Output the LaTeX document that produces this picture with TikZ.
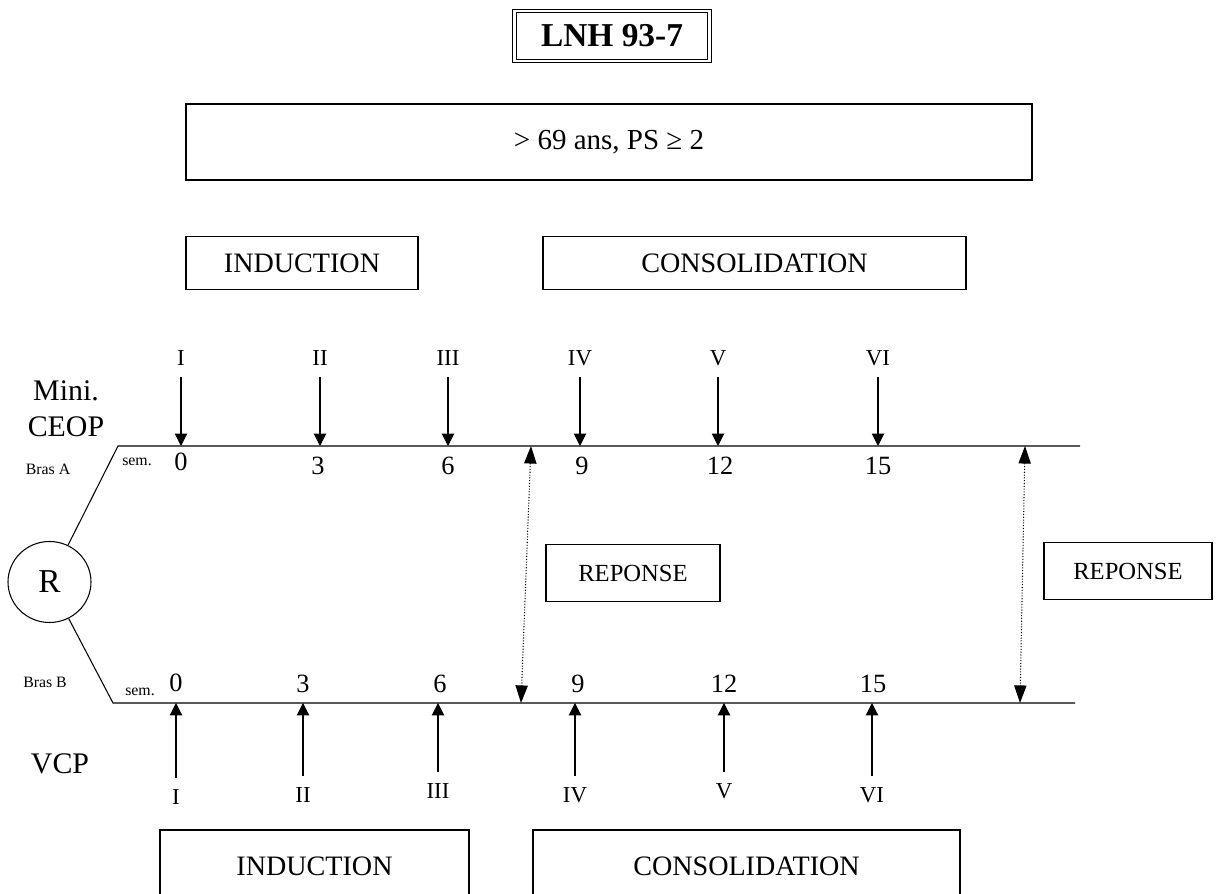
\documentclass[tikz,border=0pt]{standalone}
\usepackage{fontspec}
\setmainfont{Liberation Serif}
\usetikzlibrary{shapes.geometric, arrows.meta, positioning}

\begin{document}
\begin{tikzpicture}[line width=0.6pt,
  phase/.style={draw, minimum height=1.06cm, font=\fontsize{16}{19}\selectfont},
  repbox/.style={draw, minimum height=1.14cm, font=\fontsize{14}{17}\selectfont},
  dose/.style={-{Triangle[length=7pt,width=7pt]}, shorten <=3pt},
  resp/.style={densely dotted, {Triangle[length=10pt,width=7pt]}-{Triangle[length=10pt,width=7pt]}},
  week/.style={font=\fontsize{15}{18}\selectfont},
  cycle/.style={font=\fontsize{13}{16}\selectfont},
  tiny/.style={font=\fontsize{9}{11}\selectfont}]
\useasboundingbox (0,0) rectangle (24.36,17.88);

% en-tete
\node[draw, double, double distance=1.5pt, minimum width=3.9cm, minimum height=1cm,
  font=\fontsize{19}{23}\selectfont\bfseries] (title) at (12.24,17.16) {LNH 93-7};
\node[draw, minimum width=16.92cm, minimum height=1.52cm, font=\fontsize{16.5}{20}\selectfont]
  (crit) at (12.18,15.04) {> 69 ans, PS ≥ 2};
\node[phase, minimum width=4.64cm] (indA) at (6.04,12.62) {INDUCTION};
\node[phase, minimum width=8.46cm] (consA) at (15.09,12.62) {CONSOLIDATION};

% randomisation
\node[draw, ellipse, minimum width=1.66cm, minimum height=1.62cm,
  font=\fontsize{19}{22}\selectfont] (R) at (0.99,6.24) {R};
\coordinate (A0) at (2.36,8.96);
\coordinate (Aend) at (21.6,8.96);
\coordinate (B0) at (2.26,3.82);
\coordinate (Bend) at (21.5,3.82);
\draw (R) -- (A0) -- (Aend);
\draw (R) -- (B0) -- (Bend);
\node[align=center, font=\fontsize{17}{20.5}\selectfont] (armA) at (1.32,9.7) {Mini.\\CEOP};
\node[font=\fontsize{17}{20}\selectfont] (armB) at (1.2,2.6) {VCP};
\node[tiny] (brasA) at (0.96,8.5) {Bras A};
\node[tiny] (brasB) at (0.9,4.24) {Bras B};
\node[tiny] (semA) at (2.74,8.64) {sem.};
\node[tiny] (semB) at (2.8,4.04) {sem.};

% bras A
\node[cycle] (cA1) at (3.62,10.72) {I};
\node[cycle] (cA2) at (6.4,10.72) {II};
\node[cycle] (cA3) at (8.96,10.72) {III};
\node[cycle] (cA4) at (11.6,10.72) {IV};
\node[cycle] (cA5) at (14.36,10.72) {V};
\node[cycle] (cA6) at (17.56,10.72) {VI};
\draw[dose] (cA1) -- (cA1 |- A0);
\draw[dose] (cA2) -- (cA2 |- A0);
\draw[dose] (cA3) -- (cA3 |- A0);
\draw[dose] (cA4) -- (cA4 |- A0);
\draw[dose] (cA5) -- (cA5 |- A0);
\draw[dose] (cA6) -- (cA6 |- A0);
\node[week] (wA1) at (3.62,8.64) {0};
\node[week] (wA2) at (6.36,8.56) {3};
\node[week] (wA3) at (8.96,8.56) {6};
\node[week] (wA4) at (11.64,8.56) {9};
\node[week] (wA5) at (14.4,8.56) {12};
\node[week] (wA6) at (17.56,8.56) {15};

% bras B
\node[cycle] (cB1) at (3.52,1.94) {I};
\node[cycle] (cB2) at (6.06,1.98) {II};
\node[cycle] (cB3) at (8.76,2.06) {III};
\node[cycle] (cB4) at (11.5,1.98) {IV};
\node[cycle] (cB5) at (14.48,2.06) {V};
\node[cycle] (cB6) at (17.44,1.98) {VI};
\draw[dose] (cB1) -- (cB1 |- B0);
\draw[dose] (cB2) -- (cB2 |- B0);
\draw[dose] (cB3) -- (cB3 |- B0);
\draw[dose] (cB4) -- (cB4 |- B0);
\draw[dose] (cB5) -- (cB5 |- B0);
\draw[dose] (cB6) -- (cB6 |- B0);
\node[week] (wB1) at (3.52,4.22) {0};
\node[week] (wB2) at (6.06,4.2) {3};
\node[week] (wB3) at (8.8,4.2) {6};
\node[week] (wB4) at (11.56,4.2) {9};
\node[week] (wB5) at (14.48,4.2) {12};
\node[week] (wB6) at (17.46,4.2) {15};

% evaluations
\coordinate (rA1) at (10.62,8.96);
\coordinate (rB1) at (10.42,3.82);
\coordinate (rA2) at (20.5,8.96);
\coordinate (rB2) at (20.4,3.82);
\draw[resp] (rA1) -- (rB1);
\draw[resp] (rA2) -- (rB2);
\node[repbox, minimum width=3.48cm] (rep1) at (12.66,6.42) {REPONSE};
\node[repbox, minimum width=3.36cm] (rep2) at (22.56,6.46) {REPONSE};

% bas
\node[phase, minimum width=6.18cm, minimum height=1.44cm] (indB) at (6.29,0.56) {INDUCTION};
\node[phase, minimum width=8.54cm, minimum height=1.44cm] (consB) at (14.93,0.56) {CONSOLIDATION};
\end{tikzpicture}
\end{document}
